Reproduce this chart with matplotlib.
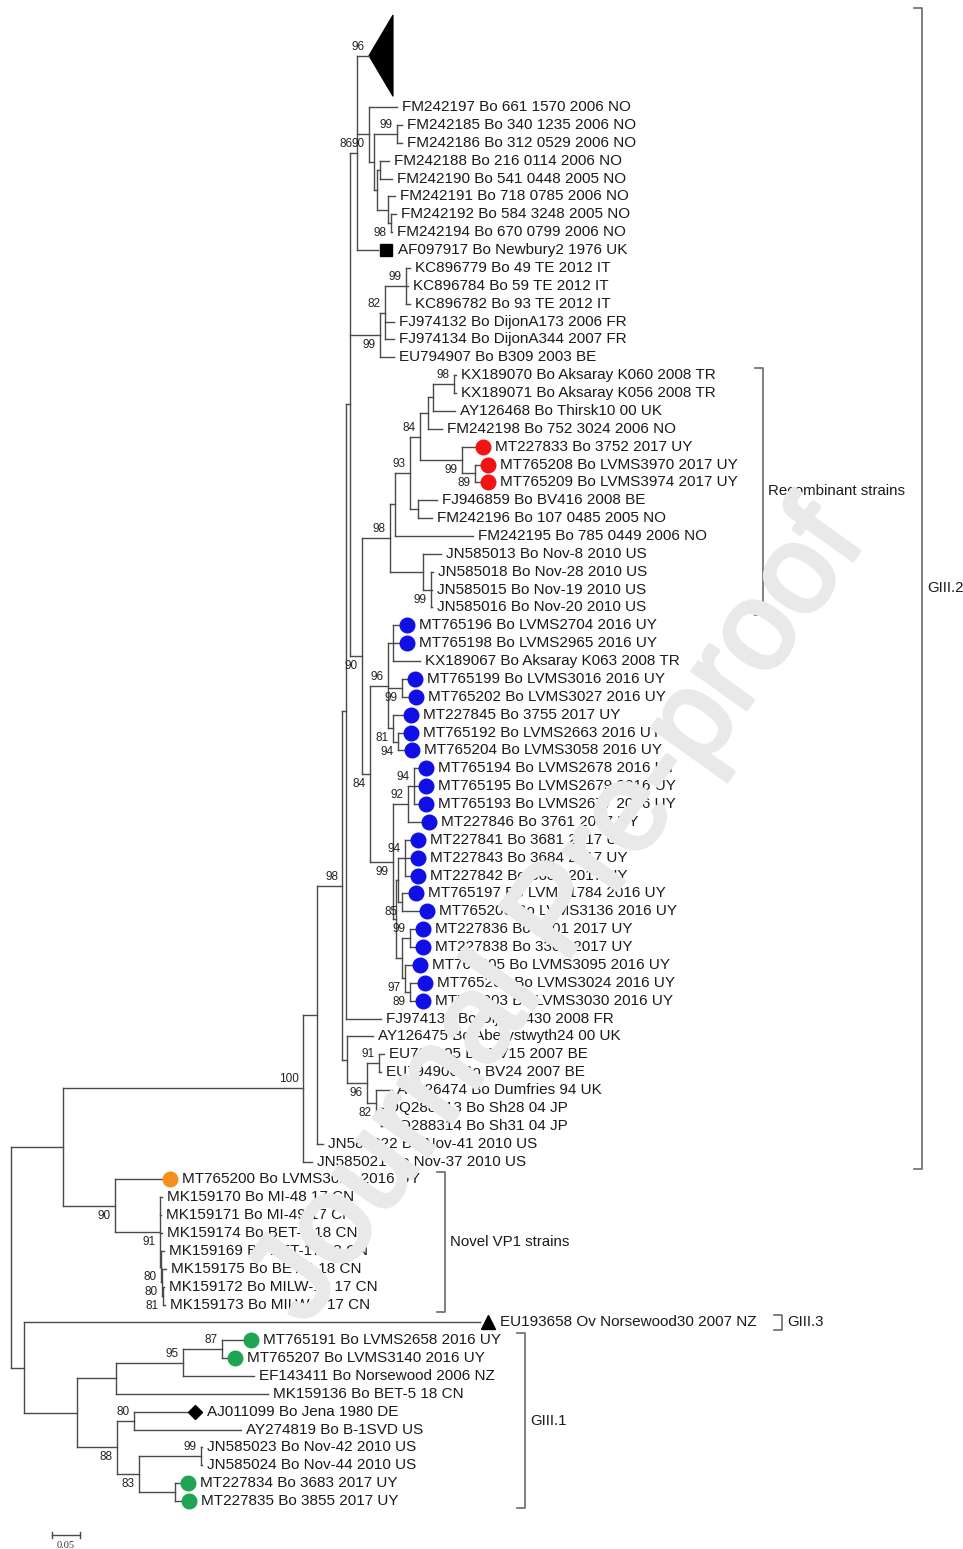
import re
import matplotlib
matplotlib.use("Agg")
import matplotlib.pyplot as plt
import matplotlib.patheffects as pe
from matplotlib.collections import LineCollection
from matplotlib.patches import Polygon
from matplotlib.transforms import offset_copy

plt.rcParams['font.family'] = ['Liberation Sans', 'DejaVu Sans']

# VP1 tree in Newick pieces: branch lengths in substitutions/site,
# bootstrap values stored as internal node names
FM_NO = ("(FM242197:0.05,((FM242185:0.0089,FM242186:0.0089)99:0.0411,"
         "((FM242188:0.0161,FM242190:0.0214):0.0054,"
         "(FM242191:0.0125,(FM242192:0.0089,FM242194:0.0018)98:0.0054):0.0196):0.0054):0.0089)90:0.0214")
TOP = "(GIII2_collapsed:0.0214," + FM_NO + ",AF097917:0.0375)86:0.0125"
IT_FR = ("(((KC896779:0.0071,KC896784:0.0036,KC896782:0.0071)99:0.0375,"
         "FJ974132:0.0161,FJ974134:0.0161)82:0.0089,EU794907:0.025)99:0.0536")
REC84 = ("((((KX189070:0.0036,KX189071:0.0036)98:0.0375,AY126468:0.0393):0.0089,FM242198:0.025):0.0143,"
         "(MT227833:0.0232,(MT765208:0.0089,MT765209:0.0089)89:0.0232)99:0.075)84:0.0179")
REC = "((" + REC84 + ",(FJ946859:0.0339,FM242196:0.025):0.0143)93:0.0268,FM242195:0.1393):0.0089"
US = "(JN585013:0.0321,(JN585018:0.0036,JN585015:0.0018,JN585016:0.0018)99:0.0143):0.0589"
UY96 = ("((MT765196:0.0107,MT765198:0.0107,KX189067:0.0482):0.0089,"
        "(MT765199:0.0089,MT765202:0.0107)99:0.025,"
        "(MT227845:0.0179,(MT765192:0.0089,MT765204:0.0107)94:0.0089)81:0.0089)96:0.0321")
UY_REST = ("(((MT227841:0.0089,MT227843:0.0089,MT227842:0.0089)94:0.0125,"
           "(MT765197:0.0107,MT765206:0.0304)85:0.0071):0.0036,"
           "((MT227836:0.0089,MT227838:0.0089)99:0.0143,"
           "(MT765205:0.0125,(MT765201:0.0125,MT765203:0.0089)89:0.0089)97:0.0054):0.0107):0.0054")
UY99 = ("(((MT765194:0.0071,MT765195:0.0071,MT765193:0.0071)94:0.0107,MT227846:0.0232)92:0.0268,"
        + UY_REST + ")99:0.0411")
MID = "((" + REC + "," + US + ")98:0.05,(" + UY96 + "," + UY99 + ")84:0.0143)90:0.0214"
BE_JP = ("(AY126475:0.0464,((EU794905:0.0089,EU794906:0.0036)91:0.0214,"
         "(AY126474:0.0286,(DQ288313:0.0036,DQ288314:0.0036):0.0089)82:0.0161)96:0.0357):0.0089")
GIII2 = ("(((((" + TOP + "," + IT_FR + "," + MID + "):0.0071,FJ974136:0.0625):0.0071,"
         + BE_JP + ")98:0.0446,JN585022:0.0107):0.025,JN585021:0.0161)100:0.4286")
NOVEL = ("(MT765200:0.0839,(MK159170:0.0036,MK159171:0.0018,MK159174:0.0036,"
         "(MK159169:0.0054,(MK159175:0.0071,(MK159172:0.0018,MK159173:0.0036)81:0.0018)80:0.0018)80:0.0018"
         ")91:0.0804)90:0.0929")
GIII1 = ("((((MT765191:0.0375,MT765207:0.0089)87:0.0696,EF143411:0.1268)95:0.1196,MK159136:0.2714):0.0696,"
         "((AJ011099:0.0946,AY274819:0.1911)80:0.0304,"
         "((JN585023:0.0018,JN585024:0.0018)99:0.1107,(MT227834:0.0089,MT227835:0.0107):0.0643)83:0.0393"
         ")88:0.0714):0.0946")
TREE = "((" + GIII2 + "," + NOVEL + "):0.0929,(EU193658:0.8143," + GIII1 + "):0.0232);"

LABELS = {
    'FM242197': 'FM242197 Bo 661 1570 2006 NO',
    'FM242185': 'FM242185 Bo 340 1235 2006 NO',
    'FM242186': 'FM242186 Bo 312 0529 2006 NO',
    'FM242188': 'FM242188 Bo 216 0114 2006 NO',
    'FM242190': 'FM242190 Bo 541 0448 2005 NO',
    'FM242191': 'FM242191 Bo 718 0785 2006 NO',
    'FM242192': 'FM242192 Bo 584 3248 2005 NO',
    'FM242194': 'FM242194 Bo 670 0799 2006 NO',
    'AF097917': 'AF097917 Bo Newbury2 1976 UK',
    'KC896779': 'KC896779 Bo 49 TE 2012 IT',
    'KC896784': 'KC896784 Bo 59 TE 2012 IT',
    'KC896782': 'KC896782 Bo 93 TE 2012 IT',
    'FJ974132': 'FJ974132 Bo DijonA173 2006 FR',
    'FJ974134': 'FJ974134 Bo DijonA344 2007 FR',
    'EU794907': 'EU794907 Bo B309 2003 BE',
    'KX189070': 'KX189070 Bo Aksaray K060 2008 TR',
    'KX189071': 'KX189071 Bo Aksaray K056 2008 TR',
    'AY126468': 'AY126468 Bo Thirsk10 00 UK',
    'FM242198': 'FM242198 Bo 752 3024 2006 NO',
    'MT227833': 'MT227833 Bo 3752 2017 UY',
    'MT765208': 'MT765208 Bo LVMS3970 2017 UY',
    'MT765209': 'MT765209 Bo LVMS3974 2017 UY',
    'FJ946859': 'FJ946859 Bo BV416 2008 BE',
    'FM242196': 'FM242196 Bo 107 0485 2005 NO',
    'FM242195': 'FM242195 Bo 785 0449 2006 NO',
    'JN585013': 'JN585013 Bo Nov-8 2010 US',
    'JN585018': 'JN585018 Bo Nov-28 2010 US',
    'JN585015': 'JN585015 Bo Nov-19 2010 US',
    'JN585016': 'JN585016 Bo Nov-20 2010 US',
    'MT765196': 'MT765196 Bo LVMS2704 2016 UY',
    'MT765198': 'MT765198 Bo LVMS2965 2016 UY',
    'KX189067': 'KX189067 Bo Aksaray K063 2008 TR',
    'MT765199': 'MT765199 Bo LVMS3016 2016 UY',
    'MT765202': 'MT765202 Bo LVMS3027 2016 UY',
    'MT227845': 'MT227845 Bo 3755 2017 UY',
    'MT765192': 'MT765192 Bo LVMS2663 2016 UY',
    'MT765204': 'MT765204 Bo LVMS3058 2016 UY',
    'MT765194': 'MT765194 Bo LVMS2678 2016 UY',
    'MT765195': 'MT765195 Bo LVMS2679 2016 UY',
    'MT765193': 'MT765193 Bo LVMS2677 2016 UY',
    'MT227846': 'MT227846 Bo 3761 2017 UY',
    'MT227841': 'MT227841 Bo 3681 2017 UY',
    'MT227843': 'MT227843 Bo 3684 2017 UY',
    'MT227842': 'MT227842 Bo 3685 2017 UY',
    'MT765197': 'MT765197 Bo LVMS1784 2016 UY',
    'MT765206': 'MT765206 Bo LVMS3136 2016 UY',
    'MT227836': 'MT227836 Bo 3301 2017 UY',
    'MT227838': 'MT227838 Bo 3304 2017 UY',
    'MT765205': 'MT765205 Bo LVMS3095 2016 UY',
    'MT765201': 'MT765201 Bo LVMS3024 2016 UY',
    'MT765203': 'MT765203 Bo LVMS3030 2016 UY',
    'FJ974136': 'FJ974136 Bo DijonA430 2008 FR',
    'AY126475': 'AY126475 Bo Aberystwyth24 00 UK',
    'EU794905': 'EU794905 Bo BV15 2007 BE',
    'EU794906': 'EU794906 Bo BV24 2007 BE',
    'AY126474': 'AY126474 Bo Dumfries 94 UK',
    'DQ288313': 'DQ288313 Bo Sh28 04 JP',
    'DQ288314': 'DQ288314 Bo Sh31 04 JP',
    'JN585022': 'JN585022 Bo Nov-41 2010 US',
    'JN585021': 'JN585021 Bo Nov-37 2010 US',
    'MT765200': 'MT765200 Bo LVMS3019 2016 UY',
    'MK159170': 'MK159170 Bo MI-48 17 CN',
    'MK159171': 'MK159171 Bo MI-49 17 CN',
    'MK159174': 'MK159174 Bo BET-1 18 CN',
    'MK159169': 'MK159169 Bo BET-17 18 CN',
    'MK159175': 'MK159175 Bo BET-4 18 CN',
    'MK159172': 'MK159172 Bo MILW-12 17 CN',
    'MK159173': 'MK159173 Bo MILW-1 17 CN',
    'EU193658': 'EU193658 Ov Norsewood30 2007 NZ',
    'MT765191': 'MT765191 Bo LVMS2658 2016 UY',
    'MT765207': 'MT765207 Bo LVMS3140 2016 UY',
    'EF143411': 'EF143411 Bo Norsewood 2006 NZ',
    'MK159136': 'MK159136 Bo BET-5 18 CN',
    'AJ011099': 'AJ011099 Bo Jena 1980 DE',
    'AY274819': 'AY274819 Bo B-1SVD US',
    'JN585023': 'JN585023 Bo Nov-42 2010 US',
    'JN585024': 'JN585024 Bo Nov-44 2010 US',
    'MT227834': 'MT227834 Bo 3683 2017 UY',
    'MT227835': 'MT227835 Bo 3855 2017 UY',
}

# collapsed GIII.2 subtree: rows it takes, extra depth of the triangle, bootstrap
COLLAPSED = {'GIII2_collapsed': dict(rows=4.75, depth=0.043, support='96')}

RED = ['MT227833', 'MT765208', 'MT765209']
BLUE = ['MT765196', 'MT765198', 'MT765199', 'MT765202', 'MT227845', 'MT765192',
        'MT765204', 'MT765194', 'MT765195', 'MT765193', 'MT227846', 'MT227841',
        'MT227843', 'MT227842', 'MT765197', 'MT765206', 'MT227836', 'MT227838',
        'MT765205', 'MT765201', 'MT765203']
ORANGE = ['MT765200']
GREEN = ['MT765191', 'MT765207', 'MT227834', 'MT227835']
SQUARE = ['AF097917']
TRIANGLE = ['EU193658']
DIAMOND = ['AJ011099']

# clade brackets: label, first leaf, last leaf, x position (subst./site)
BRACKETS = [
    ('GIII.2', 'GIII2_collapsed', 'JN585021', 1.627),
    ('Recombinant strains', 'KX189070', 'JN585016', 1.343),
    ('Novel VP1 strains', 'MT765200', 'MK159173', 0.775),
    ('GIII.3', 'EU193658', 'EU193658', 1.377),
    ('GIII.1', 'MT765191', 'MT227835', 0.918),
]
SCALE_LEN = 0.05


def parse_newick(text):
    pos = 0

    def node():
        nonlocal pos
        n = {'children': [], 'name': '', 'length': 0.0}
        if text[pos] == '(':
            pos += 1
            while True:
                n['children'].append(node())
                ch = text[pos]
                pos += 1
                if ch == ')':
                    break
        m = re.match(r'[^:,();]*', text[pos:])
        n['name'] = m.group(0)
        pos += len(n['name'])
        if pos < len(text) and text[pos] == ':':
            m = re.match(r':([0-9.]+)', text[pos:])
            n['length'] = float(m.group(1))
            pos += len(m.group(0))
        return n

    return node()


tree = parse_newick(TREE)

leaves = {}
cursor = [0.0]


def layout(n, depth):
    n['x'] = depth + n['length']
    if n['children']:
        for c in n['children']:
            layout(c, n['x'])
        n['y'] = (n['children'][0]['y'] + n['children'][-1]['y']) / 2
    else:
        h = COLLAPSED[n['name']]['rows'] if n['name'] in COLLAPSED else 1.0
        n['y'] = cursor[0] + (h - 1) / 2
        n['half'] = (h - 0.2) / 2 if n['name'] in COLLAPSED else 0.0
        cursor[0] += h
        leaves[n['name']] = n


layout(tree, 0.0)

fig = plt.figure(figsize=(9.63, 15.49), dpi=100)
ax = fig.add_axes([0, 0, 1, 1])
ax.set_xlim(-0.0196, 1.7)
ax.set_ylim(85.43, -1.24)
ax.axis('off')

LINE = '#4a4a4a'
segs = []
supports = []


def collect(n):
    if not n['children']:
        return
    ys = [c['y'] for c in n['children']]
    segs.append([(n['x'], ys[0]), (n['x'], ys[-1])])
    for i, c in enumerate(n['children']):
        segs.append([(n['x'], c['y']), (c['x'], c['y'])])
        sup = c['name'] if c['children'] else COLLAPSED.get(c['name'], {}).get('support', '')
        if sup:
            supports.append((c['x'], c['y'], sup, i == 0))
        collect(c)


collect(tree)
ax.add_collection(LineCollection(segs, colors=LINE, linewidths=1.0, capstyle='projecting'))

for x, y, s, first in supports:
    ax.annotate(s, (x, y), xytext=(-4, 9 if first else -10), textcoords='offset pixels',
                ha='right', va='center', fontsize=8.5, color='#222222')

# leaves, markers and names
marker_of = {}
for k in RED:
    marker_of[k] = ('o', '#f01414', 10.5)
for k in BLUE:
    marker_of[k] = ('o', '#1010e6', 10.5)
for k in ORANGE:
    marker_of[k] = ('o', '#f5901e', 10.5)
for k in GREEN:
    marker_of[k] = ('o', '#1fa552', 10.5)
for k in SQUARE:
    marker_of[k] = ('s', 'black', 8.5)
for k in TRIANGLE:
    marker_of[k] = ('^', 'black', 9.5)
for k in DIAMOND:
    marker_of[k] = ('D', 'black', 7)

mk_trans = offset_copy(ax.transData, fig=fig, x=8, y=0, units='dots')
for name, n in leaves.items():
    if name in COLLAPSED:
        d = COLLAPSED[name]['depth']
        ax.add_patch(Polygon([(n['x'], n['y']), (n['x'] + d, n['y'] - n['half']),
                              (n['x'] + d, n['y'] + n['half'])], closed=True,
                             facecolor='black', edgecolor='black', lw=0.8))
        continue
    dx = 5
    if name in marker_of:
        m, col, ms = marker_of[name]
        ax.plot(n['x'], n['y'], marker=m, color=col, ms=ms, mec=col, transform=mk_trans,
                zorder=4)
        dx = 20
    ax.annotate(LABELS[name], (n['x'], n['y']), xytext=(dx, 0), textcoords='offset pixels',
                ha='left', va='center', fontsize=11, color='#1a1a1a')

# clade brackets
BR = '#6a6a6a'
for label, first, last, bx in BRACKETS:
    a, b = leaves[first], leaves[last]
    top = a['y'] - a['half'] - 0.4
    bot = b['y'] + b['half'] + 0.4
    tick = 0.0143
    ax.plot([bx - tick, bx, bx, bx - tick], [top, top, bot, bot], color=BR, lw=1.2)
    ax.annotate(label, (bx, (top + bot) / 2), xytext=(5, 0), textcoords='offset pixels',
                ha='left', va='center', fontsize=10.8, color='#1a1a1a')

# scale bar
last_row = max(n['y'] for n in leaves.values())
sx0 = 0.073
sy = last_row + 1.9
ax.plot([sx0, sx0 + SCALE_LEN], [sy, sy], color=LINE, lw=1.0)
for sx in (sx0, sx0 + SCALE_LEN):
    ax.plot([sx, sx], [sy - 0.15, sy + 0.15], color=LINE, lw=1.0)
ax.text(sx0 + SCALE_LEN / 2, sy + 0.6, f'{SCALE_LEN:.2f}', ha='center', va='center',
        fontsize=7.5, family='Liberation Serif', color='#333333')

# pre-proof stamp
WM = '#e9e9e9'
fig.text(0.5815, 0.409, 'Journal Pre-proof', rotation=54.5, rotation_mode='anchor',
         ha='center', va='center', fontsize=90, color=WM, zorder=10,
         path_effects=[pe.withStroke(linewidth=3, foreground=WM)])

fig.savefig('out.png', dpi=100)
